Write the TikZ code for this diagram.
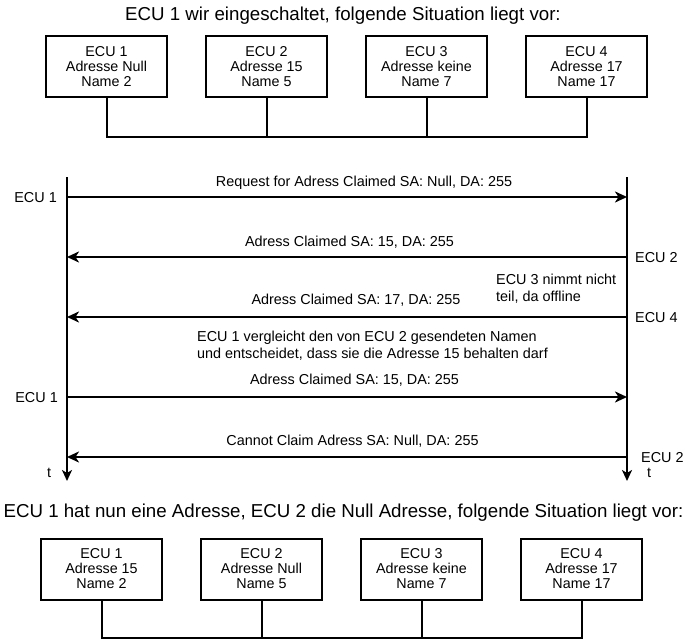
\documentclass[tikz,border=0pt]{standalone}
\usepackage{fontspec}
\setmainfont{Liberation Sans}
\usetikzlibrary{arrows.meta}
\begin{document}
\begin{tikzpicture}[x=1pt,y=-1pt,
  ecubox/.style={draw,line width=2pt,minimum width=121pt,minimum height=61pt,inner sep=0pt,align=center,font=\fontsize{14.3}{15}\selectfont},
  busline/.style={line width=2pt},
  lifeline/.style={line width=2pt,-{Stealth[length=11pt,width=10pt,inset=3pt]}},
  msg/.style={line width=2.7pt,-{Stealth[length=12pt,width=11pt,inset=3.5pt]}},
  txt/.style={inner sep=0pt,font=\fontsize{14.4}{17}\selectfont},
  ttl/.style={inner sep=0pt,font=\fontsize{18.7}{20}\selectfont}]
\useasboundingbox[fill=white] (0,0) rectangle (687,639);

% top situation
\node[ttl,anchor=base] (title1) at (343,20.5) {ECU 1 wir eingeschaltet, folgende Situation liegt vor:};
\node[ecubox] (t1) at (106.5,66.5) {ECU 1\\Adresse Null\\Name 2};
\node[ecubox] (t2) at (266.5,66.5) {ECU 2\\Adresse 15\\Name 5};
\node[ecubox] (t3) at (426.5,66.5) {ECU 3\\Adresse keine\\Name 7};
\node[ecubox] (t4) at (586.5,66.5) {ECU 4\\Adresse 17\\Name 17};
\coordinate (tbus) at (0,137);
\draw[busline] (t1.south) -- (t1.south |- tbus) -- (t4.south |- tbus) -- (t4.south);
\draw[busline] (t2.south) -- (t2.south |- tbus);
\draw[busline] (t3.south) -- (t3.south |- tbus);

% sequence
\coordinate (L0) at (67,177);
\coordinate (Lend) at (67,481);
\coordinate (R0) at (627,177);
\coordinate (Rend) at (627,481);
\draw[lifeline] (L0) -- (Lend);
\draw[lifeline] (R0) -- (Rend);

\coordinate (L1) at (67,197);  \coordinate (R1) at (627,197);
\coordinate (L2) at (67,257);  \coordinate (R2) at (627,257);
\coordinate (L3) at (67,317);  \coordinate (R3) at (627,317);
\coordinate (L4) at (67,397);  \coordinate (R4) at (627,397);
\coordinate (L5) at (67,457);  \coordinate (R5) at (627,457);
\draw[msg] (L1) -- (R1);
\draw[msg] (R2) -- (L2);
\draw[msg] (R3) -- (L3);
\draw[msg] (L4) -- (R4);
\draw[msg] (R5) -- (L5);

\node[txt,anchor=base] (m1) at (364,186) {Request for Adress Claimed SA: Null, DA: 255};
\node[txt,anchor=base] (m2) at (349.5,246) {Adress Claimed SA: 15, DA: 255};
\node[txt,anchor=base] (m3) at (356,304) {Adress Claimed SA: 17, DA: 255};
\node[txt,anchor=base west] (e3a) at (496,284) {ECU 3 nimmt nicht};
\node[txt,anchor=base west] (e3b) at (496,301) {teil, da offline};
\node[txt,anchor=base west] (ca) at (197,341) {ECU 1 vergleicht den von ECU 2 gesendeten Namen};
\node[txt,anchor=base west] (cb) at (197,358) {und entscheidet, dass sie die Adresse 15 behalten darf};
\node[txt,anchor=base] (m4) at (354.5,384) {Adress Claimed SA: 15, DA: 255};
\node[txt,anchor=base] (m5) at (352.5,445) {Cannot Claim Adress SA: Null, DA: 255};

\node[txt,anchor=base east] (s1) at (57,202) {ECU 1};
\node[txt,anchor=base west] (s2) at (635,262) {ECU 2};
\node[txt,anchor=base west] (s4) at (635,322) {ECU 4};
\node[txt,anchor=base east] (s1b) at (58,402) {ECU 1};
\node[txt,anchor=base west] (s2b) at (641,462) {ECU 2};
\node[txt,anchor=base west] (tl) at (47,477) {t};
\node[txt,anchor=base west] (tr) at (647,477) {t};

% bottom situation
\node[ttl,anchor=base] (title2) at (343.5,517) {ECU 1 hat nun eine Adresse, ECU 2 die Null Adresse, folgende Situation liegt vor:};
\node[ecubox] (b1) at (101.5,569) {ECU 1\\Adresse 15\\Name 2};
\node[ecubox] (b2) at (261.5,569) {ECU 2\\Adresse Null\\Name 5};
\node[ecubox] (b3) at (421.5,569) {ECU 3\\Adresse keine\\Name 7};
\node[ecubox] (b4) at (581.5,569) {ECU 4\\Adresse 17\\Name 17};
\coordinate (bbus) at (0,637.5);
\draw[busline] (b1.south) -- (b1.south |- bbus) -- (b4.south |- bbus) -- (b4.south);
\draw[busline] (b2.south) -- (b2.south |- bbus);
\draw[busline] (b3.south) -- (b3.south |- bbus);
\end{tikzpicture}
\end{document}
